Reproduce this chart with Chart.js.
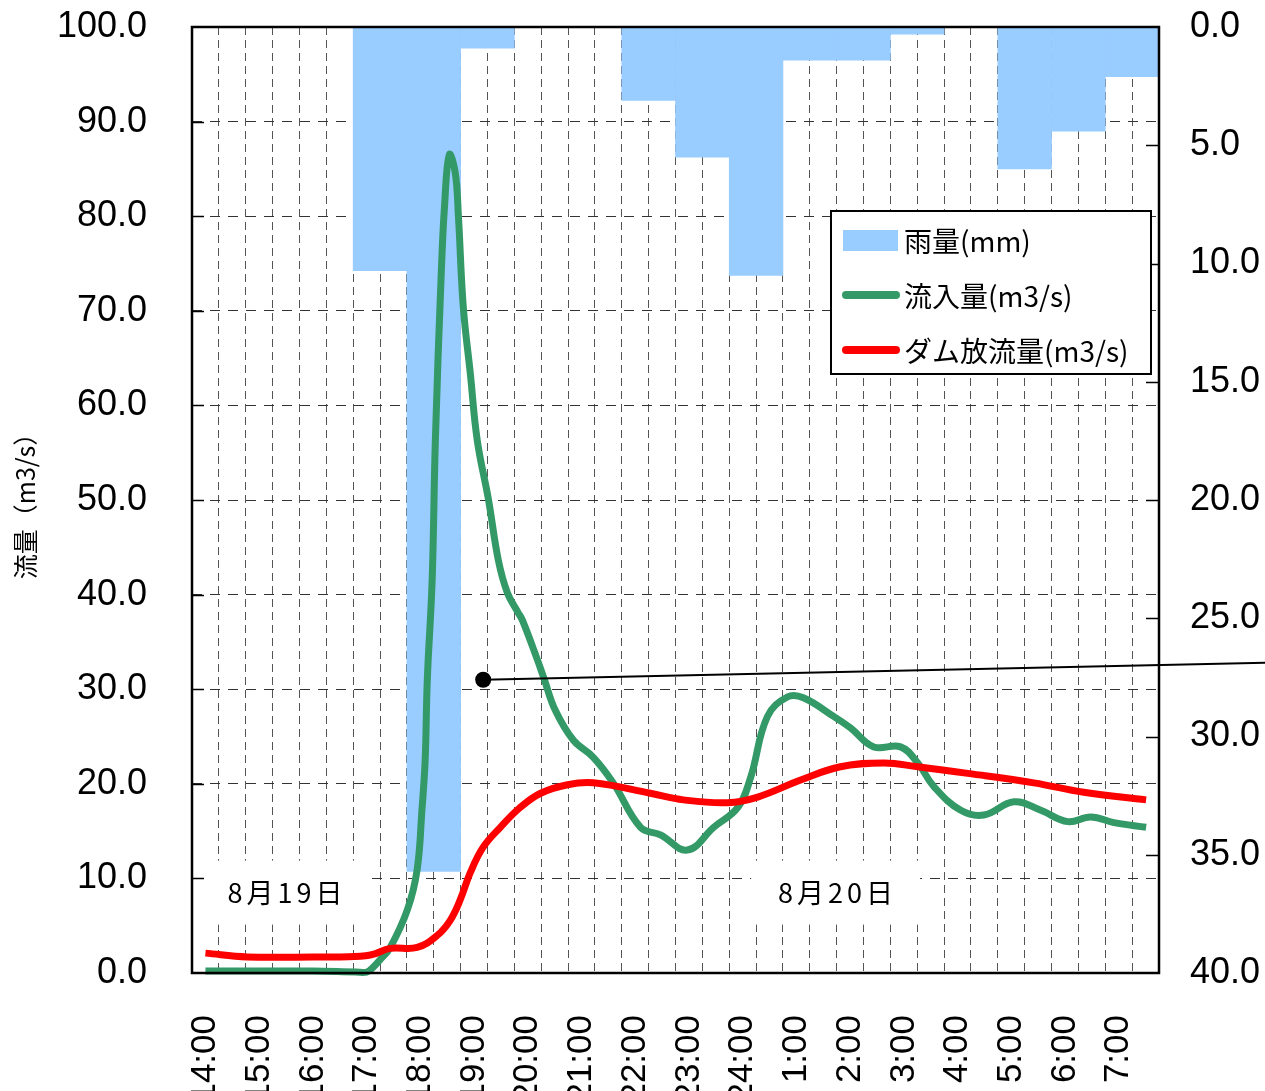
<!DOCTYPE html>
<html lang="ja">
<head>
<meta charset="utf-8">
<title>流量・雨量</title>
<script src="https://cdn.jsdelivr.net/npm/chart.js@4.4.1/dist/chart.umd.min.js"></script>
<style>
  html, body { margin: 0; padding: 0; background: #fff; }
  #wrap { width: 1265px; height: 1091px; }
</style>
</head>
<body>
<div id="wrap"><canvas id="flowChart"></canvas></div>
<script>
// 時刻ラベル（雨量は1時間ごと）
const hourLabels = ['14:00', '15:00', '16:00', '17:00', '18:00', '19:00', '20:00', '21:00', '22:00',
  '23:00', '24:00', '1:00', '2:00', '3:00', '4:00', '5:00', '6:00', '7:00'];
const rainfall = [0, 0, 0, 10.3, 35.7, 0.9, 0, 0, 3.1, 5.5, 10.5, 1.4, 1.4, 0.3, 0, 6.0, 4.4, 2.1];

// 流入量（時刻は14:00からの経過時間 h）
const inflowHours = [0, 1, 2, 2.8, 3.0, 3.12, 3.25, 3.44, 3.76, 3.94, 4.03, 4.09, 4.13, 4.22, 4.28, 4.39,
  4.45, 4.54, 4.65, 4.71, 4.80, 4.93, 5.06, 5.27, 5.45, 5.62, 5.82, 5.90, 6.18, 6.31, 6.51, 6.85, 7.22,
  7.59, 8.10, 8.47, 8.97, 9.46, 9.91, 10.15, 10.46, 10.84, 11.13, 11.70, 12.01, 12.44, 12.94, 13.26,
  13.56, 14.06, 14.49, 15.05, 15.55, 16.05, 16.48, 16.91, 17.51];
const inflowValues = [0.2, 0.2, 0.2, 0.1, 0.1, 0.6, 1.4, 2.7, 6.7, 10.9, 17.2, 22.5, 31.0, 41.5, 56.3, 74.0,
  81.0, 86.5, 84.6, 79.9, 70.4, 63.4, 56.3, 50.0, 43.7, 40.2, 38.1, 37.3, 33.1, 31.0, 27.8, 24.6, 22.8,
  20.1, 15.4, 14.6, 13.0, 15.4, 17.5, 20.7, 27.1, 29.2, 29.1, 27.1, 25.9, 23.9, 23.9, 22.2,
  19.7, 17.2, 16.7, 18.1, 17.2, 16.0, 16.5, 15.9, 15.4];

// ダム放流量
const outflowHours = [0, 0.78, 2.0, 2.51, 3.07, 3.44, 3.94, 4.32, 4.56, 4.74, 4.93, 5.17, 5.49, 5.86, 6.24,
  6.74, 7.22, 8.28, 8.90, 9.72, 10.28, 11.08, 11.82, 12.63, 13.26, 14.19, 15.42, 16.35, 17.51];
const outflowValues = [2.1, 1.7, 1.7, 1.7, 1.9, 2.6, 2.7, 4.0, 5.6, 7.7, 10.6, 13.3, 15.4, 17.5, 19.0,
  19.9, 20.1, 19.0, 18.3, 18.0, 18.6, 20.4, 21.8, 22.2, 21.8, 21.1, 20.1, 19.1, 18.3];

// 引き出し線
const calloutHours = [5.17, 19.8];
const calloutValues = [31.0, 32.8];

const dateLabels = ['8月19日', '8月20日'];
const dateLabelHours = [1.48, 11.73];

const NUM_FONT = '"Liberation Sans", Arial, sans-serif';
const JP_FONT = '"Noto Sans CJK JP", sans-serif';

function toPoints(xs, ys) {
  return xs.map((x, i) => ({ x: x, y: ys[i] }));
}

// 30分ごとの縦グリッド
const gridHours = [];
for (let h = -0.25; h <= 17.75 + 1e-6; h += 0.5) gridHours.push(h);

function noPadV(s) {
  s.paddingTop = 0;
  s.paddingBottom = 0;
}

const overlayPlugin = {
  id: 'overlay',
  beforeDatasetsDraw(chart) {
    const ctx = chart.ctx;
    const xs = chart.scales.x2;
    const ys = chart.scales.y;
    ctx.save();
    ctx.font = '27px ' + JP_FONT;
    if ('letterSpacing' in ctx) ctx.letterSpacing = '4px';
    ctx.textAlign = 'center';
    ctx.textBaseline = 'middle';
    dateLabels.forEach((txt, i) => {
      const cx = xs.getPixelForValue(dateLabelHours[i]);
      const cy = ys.getPixelForValue(8.5);
      const w = ctx.measureText(txt).width + 50;
      ctx.fillStyle = '#fff';
      ctx.fillRect(cx - w / 2, cy - 32, w, 64);
      ctx.fillStyle = '#000';
      ctx.fillText(txt, cx + 2, cy);
    });
    ctx.restore();
  },
  afterDatasetsDraw(chart) {
    const ctx = chart.ctx;
    const a = chart.chartArea;
    const y = chart.scales.y;
    const y2 = chart.scales.y2;
    ctx.save();
    // 目盛り（内向き）
    ctx.strokeStyle = '#000';
    ctx.lineWidth = 1.5;
    ctx.beginPath();
    for (let v = 10; v < 100; v += 10) {
      const py = Math.round(y.getPixelForValue(v)) + 0.5;
      ctx.moveTo(a.left, py);
      ctx.lineTo(a.left + 12, py);
    }
    for (let v = 5; v < 40; v += 5) {
      const py = Math.round(y2.getPixelForValue(v)) + 0.5;
      ctx.moveTo(a.right - 13, py);
      ctx.lineTo(a.right, py);
    }
    ctx.stroke();
    // 枠
    ctx.lineWidth = 2.5;
    ctx.strokeRect(a.left, a.top, a.right - a.left, a.bottom - a.top);

    // 凡例
    const bx = a.right - 328, by = a.top + 184, bw = 320, bh = 163;
    ctx.fillStyle = '#fff';
    ctx.fillRect(bx, by, bw, bh);
    ctx.lineWidth = 2;
    ctx.strokeRect(bx, by, bw, bh);
    const ds = chart.data.datasets;
    ctx.font = '28px ' + JP_FONT;
    ctx.textAlign = 'left';
    ctx.textBaseline = 'middle';
    [0, 1, 2].forEach((k, i) => {
      const cy = by + 29 + i * 55;
      const d = ds[k];
      if (d.type === 'bar') {
        ctx.fillStyle = d.backgroundColor;
        ctx.fillRect(bx + 12, cy - 10, 55, 21);
      } else {
        ctx.strokeStyle = d.borderColor;
        ctx.lineWidth = 8;
        ctx.lineCap = 'round';
        ctx.beginPath();
        ctx.moveTo(bx + 15, cy);
        ctx.lineTo(bx + 65, cy);
        ctx.stroke();
      }
      ctx.fillStyle = '#000';
      ctx.fillText(d.label, bx + 73, cy + 1);
    });
    ctx.restore();
  }
};

new Chart(document.getElementById('flowChart'), {
  type: 'bar',
  data: {
    labels: hourLabels,
    datasets: [
      {
        type: 'bar',
        label: '雨量(mm)',
        data: rainfall,
        xAxisID: 'x',
        yAxisID: 'y2',
        backgroundColor: '#99CCFF',
        grouped: false,
        barPercentage: 1.0,
        categoryPercentage: 1.0,
        order: 4
      },
      {
        type: 'line',
        label: '流入量(m3/s)',
        data: toPoints(inflowHours, inflowValues),
        xAxisID: 'x2',
        yAxisID: 'y',
        borderColor: '#339966',
        borderWidth: 7,
        pointRadius: 0,
        tension: 0.4,
        clip: false,
        order: 3
      },
      {
        type: 'line',
        label: 'ダム放流量(m3/s)',
        data: toPoints(outflowHours, outflowValues),
        xAxisID: 'x2',
        yAxisID: 'y',
        borderColor: '#FF0000',
        borderWidth: 7,
        pointRadius: 0,
        tension: 0.4,
        clip: false,
        order: 2
      },
      {
        type: 'line',
        label: '',
        data: toPoints(calloutHours, calloutValues),
        xAxisID: 'x2',
        yAxisID: 'y',
        borderColor: '#000',
        borderWidth: 2,
        pointRadius: [8, 0],
        pointBackgroundColor: '#000',
        pointBorderWidth: 0,
        clip: false,
        order: 1
      }
    ]
  },
  options: {
    responsive: true,
    maintainAspectRatio: false,
    animation: false,
    layout: { padding: { top: 27 } },
    plugins: {
      legend: { display: false },
      tooltip: { enabled: false }
    },
    scales: {
      x: {
        type: 'category',
        position: 'bottom',
        offset: true,
        grid: { display: false, drawTicks: false },
        border: { display: false },
        ticks: {
          autoSkip: false,
          maxRotation: 90,
          minRotation: 90,
          padding: 42,
          labelOffset: -13.4,
          color: '#000',
          font: { family: NUM_FONT, size: 35 }
        },
        afterFit: s => { s.height = 118; s.paddingLeft = 0; s.paddingRight = 0; }
      },
      x2: {
        type: 'linear',
        position: 'bottom',
        offset: false,
        min: -0.25,
        max: 17.75,
        afterBuildTicks: s => { s.ticks = gridHours.map(v => ({ value: v })); },
        ticks: { display: false },
        grid: { color: '#555', lineWidth: 1, drawTicks: false, offset: false },
        border: { display: false, dash: [8, 5] },
        afterFit: s => { s.height = 0; s.paddingLeft = 0; s.paddingRight = 0; }
      },
      y: {
        position: 'left',
        min: 0,
        max: 100,
        ticks: {
          stepSize: 10,
          padding: 45,
          color: '#000',
          font: { family: NUM_FONT, size: 36 },
          callback: v => v.toFixed(1)
        },
        grid: { color: '#333', lineWidth: 1, drawTicks: false },
        border: { display: false, dash: [10, 8] },
        title: {
          display: true,
          text: '流量（m3/s）',
          color: '#000',
          font: { family: JP_FONT, size: 25 },
          padding: { top: 10, bottom: 0 }
        },
        afterFit: s => { s.width = 192; noPadV(s); }
      },
      y2: {
        position: 'right',
        reverse: true,
        min: 0,
        max: 40,
        ticks: {
          stepSize: 5,
          padding: 31,
          color: '#000',
          font: { family: NUM_FONT, size: 36 },
          callback: v => v.toFixed(1)
        },
        grid: { display: false, drawTicks: false },
        border: { display: false },
        afterFit: s => { s.width = 106; noPadV(s); }
      }
    }
  },
  plugins: [overlayPlugin]
});
</script>
</body>
</html>
